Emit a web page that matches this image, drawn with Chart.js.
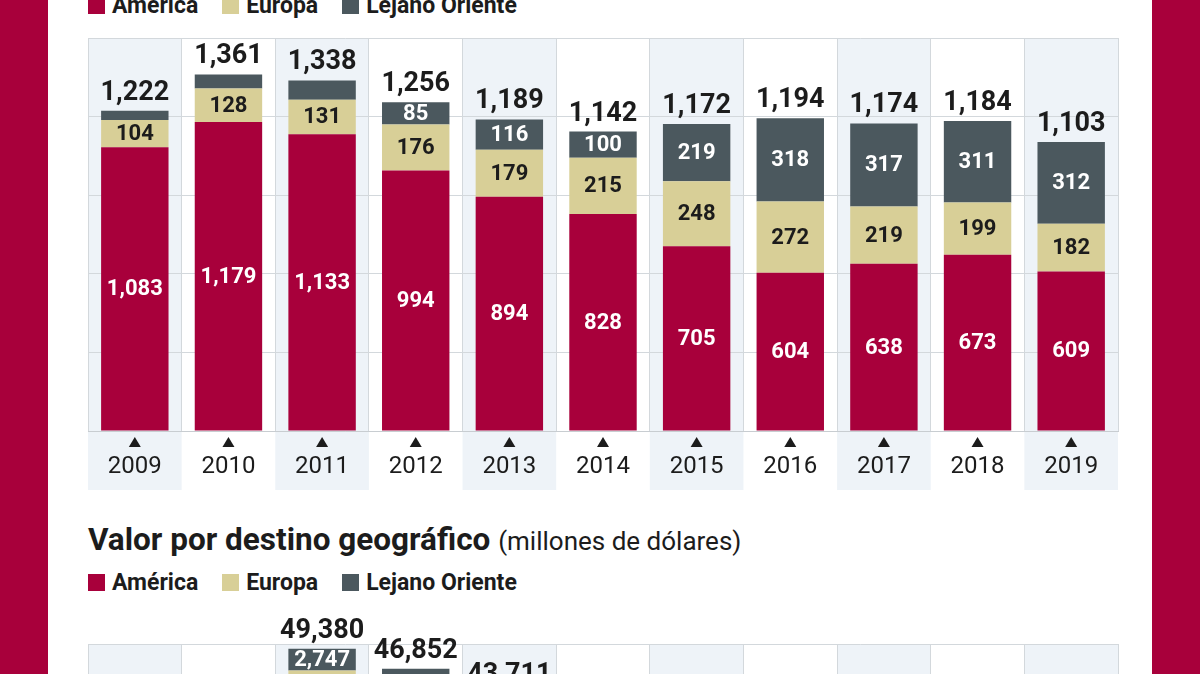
<!DOCTYPE html>
<html>
<head>
<meta charset="utf-8">
<script src="https://cdn.jsdelivr.net/npm/chart.js@4.4.1/dist/chart.umd.min.js"></script>
<style>
html, body { margin: 0; padding: 0; }
body { width: 1200px; height: 674px; overflow: hidden; position: relative; background: #fff; font-family: Roboto, sans-serif; color: #1c1c1c; }
.strip { position: absolute; top: 0; height: 674px; width: 48px; background: #a8003b; z-index: 5; }
.legend { position: absolute; left: 88px; height: 17px; display: flex; align-items: center; font-weight: bold; font-size: 23px; white-space: nowrap; }
.legend span { display: inline-flex; align-items: center; margin-right: 24px; }
.legend i { display: inline-block; width: 17px; height: 17px; margin-right: 7px; }
.box { position: absolute; left: 0; width: 1200px; height: 500px; }
.title { position: absolute; left: 88px; top: 523px; font-size: 31.5px; line-height: 34px; font-weight: bold; white-space: nowrap; }
.title small { font-size: 26px; font-weight: normal; }
</style>
</head>
<body>
<div class="strip" style="left:0"></div>
<div class="strip" style="left:1152px"></div>

<div class="legend" style="top:-3px">
  <span><i style="background:#a8003b"></i>América</span>
  <span><i style="background:#d8cf97"></i>Europa</span>
  <span><i style="background:#4b585e"></i>Lejano Oriente</span>
</div>
<div class="box" style="top:0"><canvas id="volumen"></canvas></div>

<div class="title">Valor por destino geográfico <small>(millones de dólares)</small></div>
<div class="legend" style="top:574px">
  <span><i style="background:#a8003b"></i>América</span>
  <span><i style="background:#d8cf97"></i>Europa</span>
  <span><i style="background:#4b585e"></i>Lejano Oriente</span>
</div>
<div class="box" style="top:606px"><canvas id="valor"></canvas></div>

<script>
// años
var years = ['2009', '2010', '2011', '2012', '2013', '2014', '2015', '2016', '2017', '2018', '2019'];

// volumen por destino (arriba)
var volAmerica = [1083, 1179, 1133, 994, 894, 828, 705, 604, 638, 673, 609];
var volEuropa = [104, 128, 131, 176, 179, 215, 248, 272, 219, 199, 182];
var volOriente = [35, 54, 74, 85, 116, 100, 219, 318, 317, 311, 312];
var volTotal = [1222, 1361, 1338, 1256, 1189, 1142, 1172, 1194, 1174, 1184, 1103];
var volMax = 1500, volStep = 300;

// valor por destino (abajo, solo se ve la parte de arriba)
var valAmerica = [null, null, 41233, 36352, null, null, null, null, null, null, null];
var valEuropa = [null, null, 5400, 5400, null, null, null, null, null, null, null];
var valOriente = [null, null, 2747, 5100, null, null, null, null, null, null, null];
var valTotal = [null, null, 49380, 46852, 43711, null, null, null, null, null, null];
var valMax = 50000, valStep = 10000;

var RED = '#a8003b', TAN = '#d8cf97', SLATE = '#4b585e';
var INK = '#1c1c1c', GRID = '#d3d8dc', BAND = '#eef3f8';

function fmt(v) { return v.toLocaleString('en-US'); }

// franjas de fondo y triangulos bajo cada año
var bands = {
    id: 'bands',
    beforeDraw: function(chart) {
        var ctx = chart.ctx, x = chart.scales.x, area = chart.chartArea;
        var w = area.width / years.length;
        ctx.save();
        ctx.fillStyle = BAND;
        for (var i = 0; i < years.length; i += 2) {
            var cx = x.getPixelForValue(i);
            ctx.fillRect(cx - w / 2, area.top, w, area.bottom - area.top + 59);
        }
        ctx.restore();
    },
    afterDraw: function(chart) {
        var ctx = chart.ctx, x = chart.scales.x, b = chart.chartArea.bottom;
        ctx.save();
        ctx.fillStyle = INK;
        for (var i = 0; i < years.length; i++) {
            var cx = x.getPixelForValue(i);
            ctx.beginPath();
            ctx.moveTo(cx, b + 6);
            ctx.lineTo(cx + 6, b + 16);
            ctx.lineTo(cx - 6, b + 16);
            ctx.closePath();
            ctx.fill();
        }
        ctx.restore();
    }
};

// numeros dentro de los segmentos y total encima
var labels = {
    id: 'labels',
    afterDatasetsDraw: function(chart, args, opts) {
        var ctx = chart.ctx, y = chart.scales.y;
        ctx.save();
        ctx.textAlign = 'center';
        ctx.textBaseline = 'middle';
        ctx.font = 'bold 22px Roboto';
        chart.data.datasets.forEach(function(ds, d) {
            chart.getDatasetMeta(d).data.forEach(function(bar, i) {
                var v = ds.data[i];
                if (v == null) return;
                if (Math.abs(bar.base - bar.y) < 20) return;
                ctx.fillStyle = d === 1 ? INK : '#fff';
                ctx.fillText(fmt(v), bar.x, (bar.y + bar.base) / 2 + 1);
            });
        });
        ctx.font = 'bold 27px Roboto';
        ctx.textBaseline = 'alphabetic';
        ctx.fillStyle = INK;
        opts.totals.forEach(function(t, i) {
            if (t == null) return;
            ctx.fillText(fmt(t), chart.scales.x.getPixelForValue(i), y.getPixelForValue(t) - 11);
        });
        ctx.restore();
    }
};

function makeChart(id, america, europa, oriente, totals, max, step) {
    var ctx = document.getElementById(id).getContext('2d');
    return new Chart(ctx, {
        type: 'bar',
        data: {
            labels: years,
            datasets: [
                { label: 'América', data: america, backgroundColor: RED },
                { label: 'Europa', data: europa, backgroundColor: TAN },
                { label: 'Lejano Oriente', data: oriente, backgroundColor: SLATE }
            ]
        },
        options: {
            responsive: true,
            maintainAspectRatio: false,
            animation: false,
            layout: { padding: { left: 88, right: 82, top: 38, bottom: 0 } },
            datasets: { bar: { barPercentage: 0.72, categoryPercentage: 1, borderWidth: 0 } },
            plugins: {
                legend: { display: false },
                tooltip: { enabled: false },
                labels: { totals: totals }
            },
            scales: {
                x: {
                    stacked: true,
                    grid: { color: GRID, drawTicks: false, offset: true },
                    border: { color: '#c8cdd1' },
                    ticks: { color: INK, font: { family: 'Roboto', size: 24 }, padding: 22, maxRotation: 0, autoSkip: false },
                    afterFit: function(s) { s.height = 69; }
                },
                y: {
                    stacked: true,
                    min: 0,
                    max: max,
                    ticks: { display: false, stepSize: step },
                    grid: { color: GRID, drawTicks: false },
                    border: { display: false },
                    afterFit: function(s) { s.width = 0; }
                }
            }
        },
        plugins: [bands, labels]
    });
}

window.onload = function() {
    makeChart('volumen', volAmerica, volEuropa, volOriente, volTotal, volMax, volStep);
    makeChart('valor', valAmerica, valEuropa, valOriente, valTotal, valMax, valStep);
};
</script>
</body>
</html>
